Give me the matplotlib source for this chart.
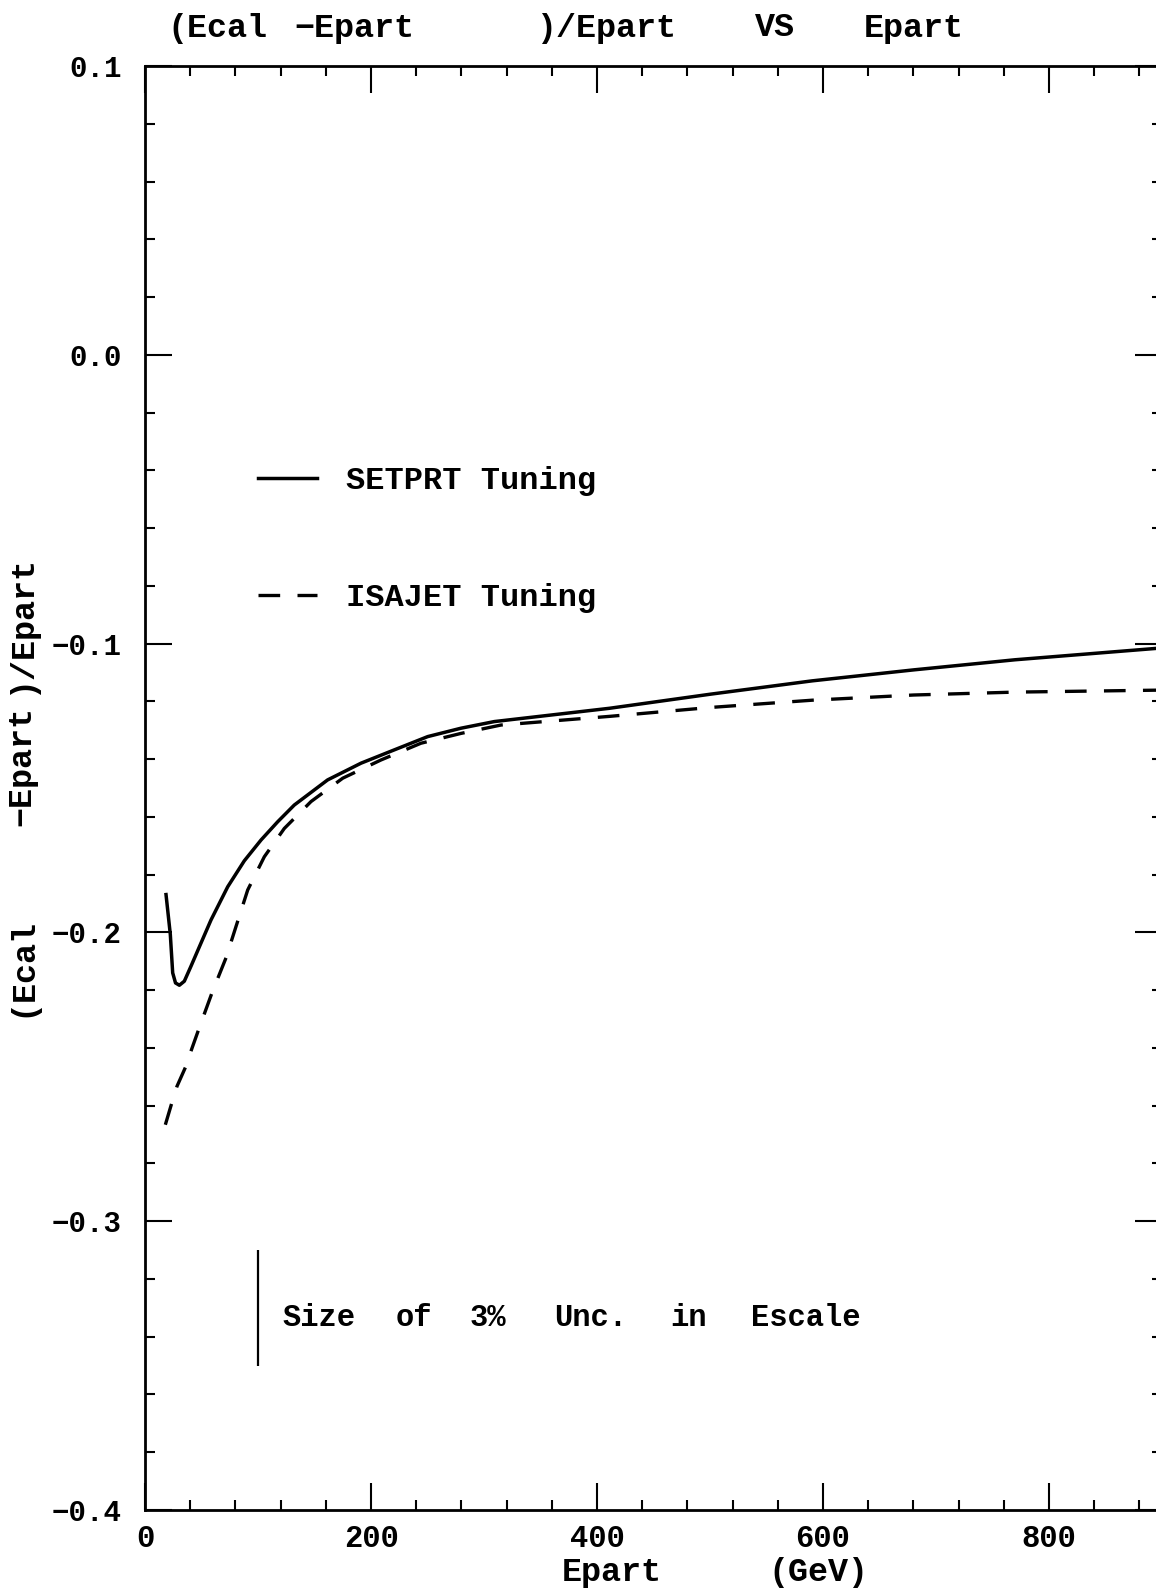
"""
(Ecal - Epart)/Epart versus Epart, SETPRT vs ISAJET tuning
"""
import matplotlib.pyplot as plt
import numpy as np

plt.rcParams['font.family'] = ['Liberation Mono', 'DejaVu Sans Mono']
plt.rcParams['font.weight'] = 'bold'

# values
setprt_e = [18.6, 22.4, 24.5, 27.0, 30.4, 34.8, 40.7, 48.1, 58.4, 73.2, 87.9,
            102.7, 117.4, 132.1, 161.6, 191.2, 220.6, 250.2, 279.6, 309.1, 411.0,
            500.7, 590.4, 680.2, 769.9, 900.0]
setprt_r = [-0.1869, -0.2007, -0.2140, -0.2175, -0.2183, -0.2169, -0.2117, -0.2050,
            -0.1957, -0.1842, -0.1752, -0.1680, -0.1617, -0.1559, -0.1472, -0.1414,
            -0.1368, -0.1322, -0.1293, -0.1270, -0.1224, -0.1175, -0.1129, -0.1091,
            -0.1056, -0.1015]

isajet_e = [18.0, 23.0, 28.3, 35.7, 41.5, 47.5, 59.3, 71.7, 80.5, 90.9, 105.6,
            123.3, 146.9, 175.0, 208.8, 244.2, 279.6, 315.0, 411.0, 500.7, 590.4,
            680.2, 769.9, 900.0]
isajet_r = [-0.2666, -0.2600, -0.2533, -0.2468, -0.2402, -0.2336, -0.2209, -0.2088,
            -0.1980, -0.1853, -0.1738, -0.1640, -0.1547, -0.1466, -0.1403, -0.1345,
            -0.1311, -0.1282, -0.1252, -0.1221, -0.1196, -0.1178, -0.1168, -0.1161]

series_names = ['SETPRT Tuning', 'ISAJET Tuning']

x_major = [0, 200, 400, 600, 800]
x_labels = ['0', '200', '400', '600', '800']
y_major = [0.1, 0.0, -0.1, -0.2, -0.3, -0.4]
y_labels = ['0.1', '0.0', '\u22120.1', '\u22120.2', '\u22120.3', '\u22120.4']

# the "size of 3% uncertainty" marker bar
unc_e = 100
unc_lo, unc_hi = -0.350, -0.310
unc_text = ['Size', 'of', '3%', 'Unc.', 'in', 'Escale']
unc_word_x = [122, 222, 287, 362, 465, 536]

W, H = 1156, 1590
fig = plt.figure(figsize=(W / 100, H / 100), dpi=100)
ax = fig.add_axes([145 / W, 1 - 1510 / H, 1017 / W, 1444 / H])

ax.plot(setprt_e, setprt_r, color='black', lw=2.5, solid_joinstyle='round',
        label=series_names[0])
ax.plot(isajet_e, isajet_r, color='black', lw=2.4, dashes=(6.5, 5.2),
        dash_capstyle='butt', label=series_names[1])

ax.vlines(unc_e, unc_lo, unc_hi, color='black', lw=1.6)
for word, wx in zip(unc_text, unc_word_x):
    ax.text(wx, -0.3335, word, fontsize=22, ha='left', va='center')

ax.set_xlim(0, 900)
ax.set_ylim(-0.4, 0.1)
ax.set_xticks(x_major)
ax.set_xticklabels(x_labels)
ax.set_xticks(np.arange(0, 900, 40), minor=True)
ax.set_yticks(y_major)
ax.set_yticklabels(y_labels)
ax.set_yticks(np.arange(-0.4, 0.1001, 0.02), minor=True)

ax.tick_params(which='both', direction='in', top=True, right=True,
               labeltop=False, labelright=False, color='black')
ax.tick_params(which='major', length=19.5, width=1.5)
ax.tick_params(which='minor', length=7.5, width=1.5)
ax.tick_params(axis='x', which='major', pad=10, labelsize=22)
ax.tick_params(axis='y', which='major', pad=17, labelsize=21)
for s in ax.spines.values():
    s.set_linewidth(2.0)

leg = ax.legend(loc='upper left', bbox_to_anchor=(100, -0.0386),
                bbox_transform=ax.transData, frameon=False, fontsize=23,
                handlelength=1.85, handletextpad=0.9, labelspacing=2.71,
                borderpad=0, borderaxespad=0)

# title, split in words as spaced on the original
title_words = ['(Ecal', '\u2212Epart', ')/Epart', 'VS', 'Epart']
title_x = [167, 294, 536, 755, 864]
for word, px in zip(title_words, title_x):
    fig.text(px / W, 1 - 28 / H, word, fontsize=24, ha='left', va='center')

xlab_words = ['Epart', '(GeV)']
xlab_x = [562, 768]
for word, px in zip(xlab_words, xlab_x):
    fig.text(px / W, 1 - 1572 / H, word, fontsize=24, ha='left', va='center')

ylab_words = ['(Ecal', '\u2212Epart', ')/Epart']
ylab_y = [1017, 826, 695]
for word, py in zip(ylab_words, ylab_y):
    fig.text(22 / W, 1 - py / H, word, fontsize=24, rotation=90,
             ha='center', va='bottom')

fig.savefig('out.png', dpi=100)
